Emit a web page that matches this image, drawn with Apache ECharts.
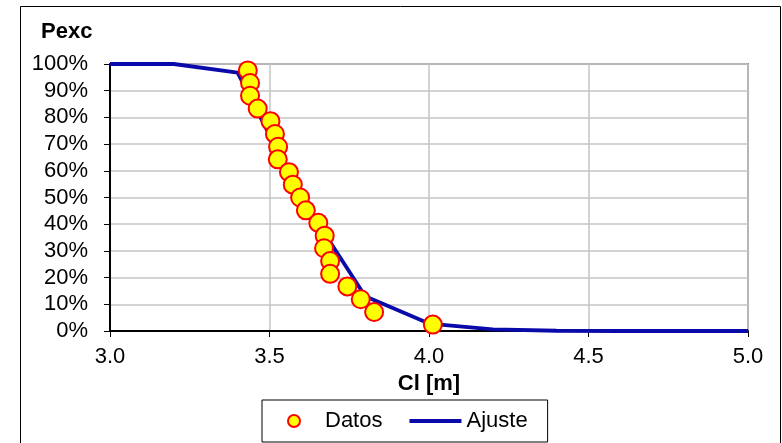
<!DOCTYPE html>
<html><head><meta charset="utf-8">
<script src="https://cdn.jsdelivr.net/npm/echarts@6/dist/echarts.min.js"></script>
<style>html,body{margin:0;padding:0;background:#fff}#c{width:782px;height:443px}</style>
</head><body><div id="c"></div>
<script>
// Observed points (Datos)
const datosX = [3.432, 3.439, 3.439, 3.463, 3.503, 3.517, 3.527, 3.526, 3.561, 3.573, 3.596, 3.614, 3.653, 3.673, 3.671, 3.690, 3.690, 3.744, 3.786, 3.828, 4.012];
const datosY = [97.6, 92.9, 88.1, 83.3, 78.6, 73.8, 69.0, 64.3, 59.5, 54.8, 50.0, 45.2, 40.5, 35.7, 31.0, 26.2, 21.4, 16.7, 11.9, 7.1, 2.4];
// Fitted curve (Ajuste)
const ajusteX = [3.0, 3.2, 3.4, 3.6, 3.8, 4.0, 4.2, 4.4, 4.6, 4.8, 5.0];
const ajusteY = [100, 100, 96.8, 50.0, 13.0, 2.8, 0.6, 0.1, 0, 0, 0];
const xTitle = 'Cl [m]';
const yTitle = 'Pexc';

const FONT = "'Liberation Sans', Arial, sans-serif";
const BLUE = '#0a0aaa';
const chart = echarts.init(document.getElementById('c'), null, {renderer: 'canvas'});
chart.setOption({
  animation: false,
  backgroundColor: '#fff',
  title: {
    text: yTitle, left: 36, top: 16,
    textStyle: {fontFamily: FONT, fontSize: 22, fontWeight: 'bold', color: '#000'}
  },
  graphic: [{
    type: 'rect', silent: true, z: -1,
    shape: {x: 20.5, y: 6.5, width: 760, height: 450},
    style: {fill: 'none', stroke: '#000', lineWidth: 1}
  }],
  grid: {
    left: 110, right: 34, top: 64, bottom: 112,
    show: true, borderColor: '#8a8a8a', borderWidth: 2, backgroundColor: 'transparent'
  },
  legend: {
    left: 262, top: 400,
    padding: [10, 20, 10, 25],
    itemGap: 27, itemWidth: 52, itemHeight: 12,
    borderColor: '#000', borderWidth: 1, backgroundColor: '#fff',
    textStyle: {fontFamily: FONT, fontSize: 22, color: '#000'},
    data: [
      {name: 'Datos'},
      {name: 'Ajuste', icon: 'path://M0,0 L52,0 L52,4 L0,4 Z', itemStyle: {color: BLUE, borderWidth: 0}}
    ]
  },
  xAxis: {
    type: 'value', min: 3, max: 5, interval: 0.5,
    name: xTitle, nameLocation: 'middle', nameGap: 40,
    nameTextStyle: {fontFamily: FONT, fontSize: 22, fontWeight: 'bold', color: '#000'},
    axisLine: {show: true, onZero: false, lineStyle: {color: '#000', width: 2}},
    axisTick: {show: true, inside: false, length: 6, lineStyle: {color: '#000', width: 1}},
    axisLabel: {fontFamily: FONT, fontSize: 22, color: '#000', margin: 15, formatter: v => v.toFixed(1)},
    splitLine: {show: true, lineStyle: {color: '#c4c4c4', width: 1.5}}
  },
  yAxis: {
    type: 'value', min: 0, max: 100, interval: 10,
    axisLine: {show: true, onZero: false, lineStyle: {color: '#000', width: 2}},
    axisTick: {show: true, inside: false, length: 6, lineStyle: {color: '#000', width: 1}},
    axisLabel: {fontFamily: FONT, fontSize: 22, color: '#000', margin: 22, formatter: '{value}%'},
    splitLine: {show: true, lineStyle: {color: '#c4c4c4', width: 1.5}}
  },
  series: [
    {
      name: 'Datos', type: 'scatter', z: 3,
      symbol: 'circle', symbolSize: 18,
      itemStyle: {color: '#ffff00', borderColor: '#ff0000', borderWidth: 2, opacity: 1},
      data: datosX.map((x, i) => [x, datosY[i]])
    },
    {
      name: 'Ajuste', type: 'line', z: 2,
      symbol: 'none', smooth: false,
      lineStyle: {color: BLUE, width: 3.8},
      itemStyle: {color: BLUE},
      data: ajusteX.map((x, i) => [x, ajusteY[i]])
    }
  ]
});
</script></body></html>
